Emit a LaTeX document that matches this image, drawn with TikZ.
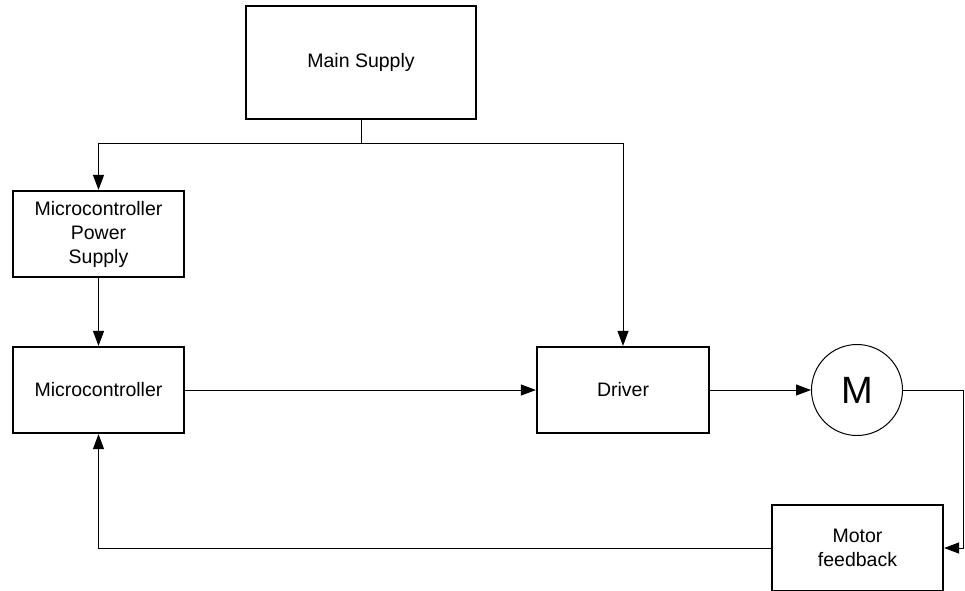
\documentclass[tikz,border=0pt]{standalone}
\usepackage{fontspec}
\setmainfont{Liberation Sans}
\usetikzlibrary{arrows.meta}

\begin{document}
\begin{tikzpicture}[x=1pt, y=-1pt,
		block/.style={draw, line width=2.2pt, inner sep=0pt, align=center,
			minimum width=171pt, minimum height=86pt,
			font=\fontsize{19.5}{24}\selectfont},
		link/.style={line width=1pt},
		feed/.style={link, -{Triangle[length=15pt, width=11pt]}}]
			%%%%% START %%%%%
			
			\useasboundingbox (0, 0) rectangle (965, 590);
			\clip (0, 0) rectangle (965, 590);
			
			\node[block, minimum width=230pt, minimum height=113pt] (main) at (361, 62.5) {Main Supply};
			
			\node[block] (mps) at (98.5, 234) {Microcontroller\\Power\\Supply};
			\node[block] (mcu) at (98.5, 390) {Microcontroller};
			\node[block, minimum width=172pt] (drv) at (623, 390) {Driver};
			\node[draw, circle, line width=1pt, minimum size=91pt, inner sep=0pt,
				font=\fontsize{38}{38}\selectfont] (mot) at (857, 390) {M};
			\node[block] (fb) at (857.5, 548) {Motor\\feedback};
			
			\draw[link] (main.south) -- ++(0, 23) coordinate (split);
			\draw[feed] (split) -| (mps.north);
			\draw[feed] (split) -| (drv.north);
			
			\draw[feed] (mps.south) -- (mcu.north);
			\draw[feed] (mcu.east) -- (drv.west);
			\draw[feed] (drv.east) -- (mot.west);
			
			\draw[feed] (mot.east) -- ++(60, 0) |- (fb.east);
			\draw[feed] (fb.west) -| (mcu.south);
			
			%%%%% END %%%%%
		\end{tikzpicture}
\end{document}
